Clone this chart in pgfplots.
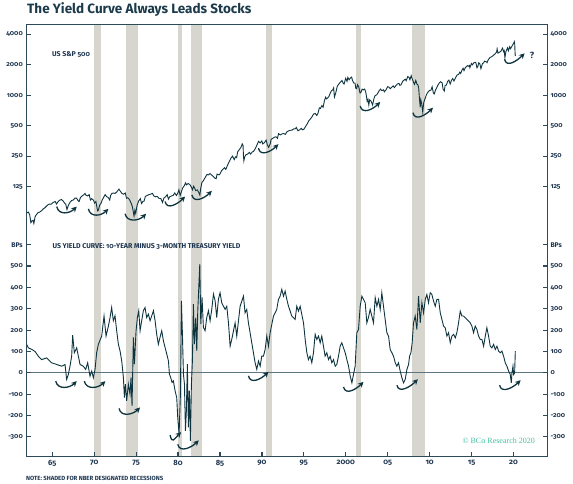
\documentclass[border=0pt]{standalone}
\usepackage{fontspec}
\setmainfont{Fira Sans}[Numbers=OldStyle]
\newfontfamily\bcafont{Liberation Serif}
\usepackage{pgfplots}
\pgfplotsset{compat=1.18}
\usetikzlibrary{arrows.meta}
\definecolor{ink}{HTML}{0E3440}
\definecolor{axcol}{HTML}{2C4A57}
\definecolor{lbl}{HTML}{1E3550}
\definecolor{recess}{HTML}{D6D6CE}
\definecolor{zeroc}{HTML}{5C7580}
\definecolor{bca}{HTML}{43BFA0}
\definecolor{titlec}{HTML}{1B3A4B}
\newcommand{\swoosh}[4]{\draw[ink, line width=1.3pt, -{Stealth[length=5.5pt,width=5.5pt]}] (axis cs:#1,#2) .. controls +(2pt,-9pt) and +(-7pt,-7pt) .. +(#3pt,#4pt);}
\newcommand{\recessions}[1]{%
 \foreach \a/\b in {1969.92/1970.83, 1973.83/1975.17, 1980.0/1980.5, 1981.5/1982.83, 1990.5/1991.17, 2001.17/2001.83, 2007.92/2009.42}{%
  \edef\tmp{\noexpand\fill[recess] ({axis cs:\a,#1}|-{rel axis cs:0,0}) rectangle ({axis cs:\b,#1}|-{rel axis cs:0,1});}\tmp}}
\pgfplotsset{
 panel/.style={scale only axis, width=520.7pt, xmin=1961.9, xmax=2024.0,
  tick align=inside, major tick length=4.5pt,
  every tick/.style={axcol, line width=1.2pt},
  axis line style={axcol, line width=0.9pt},
  yticklabel style={font=\fontsize{6.8}{7}\selectfont\bfseries, text=lbl},
  xticklabel style={font=\fontsize{7.6}{8}\selectfont\bfseries, text=lbl},
  anchor=south west},
 toppanel/.style={panel, at={(26.3pt,247pt)}, height=212pt,
  ymin=40.6, ymax=5055, ytick={125,250,500,1000,2000,4000},
  yticklabels={125,250,500,1000,2000,4000}, xtick=\empty},
 botpanel/.style={panel, at={(26.3pt,26.3pt)}, height=220.7pt, ymin=-393, ymax=641,
  ytick={-300,-200,-100,0,100,200,300,400,500,600},
  yticklabels={-300,-200,-100,0,100,200,300,400,500,BPs}}
}
\begin{document}
\begin{tikzpicture}
\path[use as bounding box] (0,0) rectangle (573pt,483pt);
% ---------- top panel ----------
\begin{axis}[ymode=log, log basis y=2, toppanel, axis on top, axis x line*=top, axis y line*=left]
\recessions{100}
\addplot[ink, line width=0.9pt, no markers] coordinates {
(1961.9,71) (1962.0,69) (1962.15,70) (1962.3,66) (1962.45,55) (1962.55,57) (1962.7,58) (1962.8,54) (1962.95,63)
(1963.1,66) (1963.3,69) (1963.5,70) (1963.7,72) (1963.9,75) (1964.1,77) (1964.3,80) (1964.5,83) (1964.7,84) (1964.9,84)
(1965.1,87) (1965.35,89) (1965.5,84) (1965.7,89) (1965.9,92) (1966.1,93) (1966.3,90) (1966.45,86) (1966.6,84) (1966.75,74) (1966.9,81)
(1967.1,87) (1967.3,91) (1967.5,92) (1967.7,96) (1967.9,96) (1968.1,90) (1968.2,89) (1968.35,97) (1968.5,100) (1968.7,103) (1968.9,107)
(1969.0,103) (1969.2,101) (1969.4,104) (1969.55,92) (1969.7,95) (1969.9,92) (1970.05,86) (1970.2,89) (1970.4,72) (1970.5,73) (1970.65,82) (1970.8,85) (1970.95,92)
(1971.1,97) (1971.3,104) (1971.5,99) (1971.65,98) (1971.85,92) (1971.95,102) (1972.1,107) (1972.3,108) (1972.5,107) (1972.7,111) (1972.95,118)
(1973.1,113) (1973.3,107) (1973.5,105) (1973.7,108) (1973.85,96) (1974.0,97) (1974.2,93) (1974.4,86) (1974.55,79) (1974.75,64) (1974.85,73) (1974.95,68)
(1975.1,81) (1975.3,90) (1975.5,95) (1975.65,85) (1975.8,89) (1975.95,90) (1976.1,100) (1976.3,102) (1976.5,104) (1976.7,105) (1976.95,107)
(1977.1,101) (1977.3,99) (1977.5,100) (1977.7,96) (1977.95,95) (1978.15,87) (1978.3,96) (1978.5,99) (1978.7,104) (1978.85,94)
(1979.0,99) (1979.2,101) (1979.4,102) (1979.6,108) (1979.8,102) (1979.95,107) (1980.1,116) (1980.25,102) (1980.4,111) (1980.55,121) (1980.75,128) (1980.9,136)
(1981.0,130) (1981.2,134) (1981.4,131) (1981.6,123) (1981.72,116) (1981.85,126) (1981.95,122) (1982.1,114) (1982.3,116) (1982.45,110) (1982.6,103) (1982.7,120) (1982.85,138) (1982.95,140)
(1983.2,152) (1983.45,165) (1983.6,163) (1983.8,168) (1983.95,164) (1984.1,160) (1984.4,151) (1984.55,150) (1984.65,166) (1984.9,163)
(1985.0,167) (1985.2,180) (1985.4,187) (1985.55,192) (1985.7,185) (1985.85,199) (1985.99,211) (1986.15,225) (1986.3,238) (1986.5,250) (1986.7,231) (1986.85,246) (1986.99,242)
(1987.1,275) (1987.3,290) (1987.5,305) (1987.65,330) (1987.75,318) (1987.8,250) (1987.85,225) (1987.95,247) (1988.1,258) (1988.3,262) (1988.5,272) (1988.65,262) (1988.85,275) (1988.99,278)
(1989.2,295) (1989.4,321) (1989.6,350) (1989.8,338) (1989.99,353) (1990.1,330) (1990.3,340) (1990.5,360) (1990.65,322) (1990.8,305) (1990.99,330)
(1991.1,367) (1991.3,375) (1991.5,385) (1991.7,388) (1991.85,375) (1991.99,417) (1992.2,405) (1992.4,415) (1992.6,418) (1992.8,410) (1992.99,436)
(1993.2,445) (1993.4,450) (1993.6,452) (1993.8,465) (1993.99,466) (1994.1,480) (1994.3,445) (1994.5,455) (1994.7,470) (1994.85,455) (1994.99,459)
(1995.2,490) (1995.4,520) (1995.6,560) (1995.8,585) (1995.99,615) (1996.15,650) (1996.35,660) (1996.55,630) (1996.7,670) (1996.85,750) (1996.99,740)
(1997.15,790) (1997.3,760) (1997.45,880) (1997.6,955) (1997.7,920) (1997.85,940) (1997.99,970) (1998.15,1050) (1998.3,1110) (1998.45,1130) (1998.55,1180) (1998.65,960) (1998.8,1050) (1998.99,1229)
(1999.15,1280) (1999.3,1330) (1999.45,1370) (1999.55,1400) (1999.7,1310) (1999.8,1290) (1999.99,1469) (2000.15,1370) (2000.25,1500) (2000.4,1420) (2000.55,1480) (2000.7,1510) (2000.8,1400) (2000.95,1320)
(2001.1,1320) (2001.2,1170) (2001.3,1160) (2001.4,1270) (2001.55,1210) (2001.7,1050) (2001.8,1060) (2001.95,1148) (2002.1,1130) (2002.25,1150) (2002.4,1060) (2002.55,870) (2002.65,910) (2002.75,800) (2002.85,900) (2002.99,880)
(2003.1,840) (2003.2,800) (2003.35,920) (2003.5,990) (2003.7,1010) (2003.85,1060) (2003.99,1111) (2004.15,1150) (2004.3,1110) (2004.5,1130) (2004.6,1080) (2004.8,1130) (2004.99,1212)
(2005.15,1200) (2005.3,1160) (2005.5,1200) (2005.65,1235) (2005.8,1190) (2005.99,1248) (2006.15,1290) (2006.35,1310) (2006.45,1250) (2006.6,1270) (2006.8,1380) (2006.99,1418)
(2007.1,1440) (2007.2,1390) (2007.4,1530) (2007.55,1500) (2007.65,1420) (2007.8,1560) (2007.9,1470) (2008.0,1400) (2008.1,1330) (2008.2,1280) (2008.35,1400) (2008.5,1280) (2008.6,1270) (2008.7,1170) (2008.8,900) (2008.88,760) (2008.95,900)
(2009.05,830) (2009.18,680) (2009.3,850) (2009.45,920) (2009.6,1000) (2009.75,1060) (2009.99,1115) (2010.15,1120) (2010.3,1210) (2010.45,1050) (2010.55,1030) (2010.7,1120) (2010.85,1190) (2010.99,1257)
(2011.15,1320) (2011.3,1360) (2011.5,1320) (2011.6,1150) (2011.75,1100) (2011.85,1250) (2011.99,1257) (2012.15,1370) (2012.3,1410) (2012.45,1290) (2012.6,1400) (2012.75,1460) (2012.9,1380) (2012.99,1426)
(2013.15,1520) (2013.3,1590) (2013.45,1600) (2013.6,1690) (2013.7,1640) (2013.85,1760) (2013.99,1848) (2014.1,1750) (2014.25,1870) (2014.5,1960) (2014.6,1930) (2014.75,1970) (2014.8,1870) (2014.99,2058)
(2015.1,1995) (2015.3,2100) (2015.5,2110) (2015.65,1870) (2015.75,1920) (2015.85,2090) (2015.99,2043) (2016.1,1860) (2016.12,1830) (2016.3,2050) (2016.45,2090) (2016.55,2170) (2016.8,2130) (2016.85,2100) (2016.99,2238)
(2017.2,2360) (2017.4,2400) (2017.6,2470) (2017.8,2560) (2017.99,2673) (2018.05,2870) (2018.15,2600) (2018.3,2650) (2018.5,2720) (2018.7,2920) (2018.82,2700) (2018.9,2760) (2018.98,2350)
(2019.1,2700) (2019.3,2940) (2019.4,2750) (2019.55,3010) (2019.65,2880) (2019.75,2980) (2019.9,3140) (2020.0,3230) (2020.1,3386) (2020.15,3200) (2020.2,2500) (2020.24,2440)
};
\swoosh{1965.53}{79.3}{20}{0}
\swoosh{1969.30}{75.3}{20}{0}
\swoosh{1973.68}{67.3}{21}{0}
\swoosh{1978.45}{88.9}{20}{5}
\swoosh{1981.64}{103.5}{20}{4}
\swoosh{1989.58}{299.5}{20}{4}
\swoosh{2001.72}{782}{20}{4}
\swoosh{2008.01}{671}{20}{5}
\swoosh{2018.94}{2263}{20}{6}
\node[font=\fontsize{9}{10}\selectfont\bfseries, text=lbl] at (axis cs:2022.2,2500) {?};
\end{axis}
\begin{axis}[ymode=log, log basis y=2, toppanel, axis x line=none, axis y line*=right]
\addplot[draw=none] coordinates {(1970,100)};
\end{axis}
% ---------- bottom panel ----------
\begin{axis}[botpanel, axis on top, axis x line*=bottom, axis y line*=left,
  xtick={1965,1970,...,2020}, xticklabels={65,70,75,80,85,90,95,2000,05,10,15,20}]
\recessions{0}
\draw[zeroc, line width=0.8pt] ({rel axis cs:0,0}|-{axis cs:1970,0}) -- ({rel axis cs:1,0}|-{axis cs:1970,0});
\addplot[ink, line width=0.9pt, no markers] coordinates {
(1961.94,133) (1962.14,117) (1962.54,110) (1962.94,100) (1963.33,78) (1963.73,62) (1964.33,70) (1964.92,47) (1965.52,39)
(1966.12,31) (1966.52,39) (1966.71,-31) (1966.91,-8) (1967.11,31) (1967.31,78) (1967.43,176) (1967.63,94) (1967.91,117)
(1968.11,78) (1968.31,39) (1968.70,31) (1968.98,16) (1969.22,47) (1969.50,-16) (1969.70,8) (1969.90,-23)
(1970.10,16) (1970.29,94) (1970.49,133) (1970.89,172) (1971.17,266) (1971.41,172) (1971.69,219) (1971.89,259)
(1972.08,306) (1972.28,244) (1972.48,267) (1972.68,197) (1972.88,134) (1973.08,103) (1973.28,56) (1973.48,-22) (1973.60,-116) (1973.72,-53)
(1973.87,-131) (1974.07,-53) (1974.27,-100) (1974.39,-22) (1974.51,-155) (1974.67,166) (1974.79,41) (1974.99,197) (1975.15,259) (1975.31,291)
(1975.47,197) (1975.66,244) (1975.86,291) (1976.06,306) (1976.26,259) (1976.46,275) (1976.66,244) (1976.86,267) (1977.06,291) (1977.26,244)
(1977.45,181) (1977.65,134) (1977.85,166) (1978.05,197) (1978.25,150) (1978.45,119) (1978.65,88) (1978.85,56) (1978.97,-6) (1979.12,-22)
(1979.28,-45) (1979.44,-38) (1979.64,-84) (1979.84,-116) (1979.96,-209) (1980.12,-288) (1980.28,-100) (1980.40,337) (1980.52,181) (1980.64,-6)
(1980.76,-53) (1980.88,-272) (1980.99,-178) (1981.11,41) (1981.23,-256) (1981.35,-84) (1981.47,-319) (1981.59,-53) (1981.71,56) (1981.83,322)
(1981.95,134) (1982.11,259) (1982.23,103) (1982.35,291) (1982.47,400) (1982.59,509) (1982.71,228) (1982.86,353) (1983.02,213) (1983.22,197)
(1983.42,259) (1983.62,291) (1983.82,244) (1984.02,298) (1984.22,369) (1984.42,337) (1984.61,259) (1984.81,344) (1985.01,375) (1985.21,328) (1985.61,297) (1985.81,312)
(1986.01,234) (1986.21,125) (1986.40,156) (1986.80,234) (1987.00,172) (1987.40,312) (1987.80,359) (1987.99,281)
(1988.19,297) (1988.39,234) (1988.59,188) (1988.79,141) (1988.99,94) (1989.19,47) (1989.39,16) (1989.59,55) (1989.79,31) (1989.98,78)
(1990.18,78) (1990.38,109) (1990.58,172) (1990.78,125) (1990.98,188) (1991.38,266) (1991.58,281) (1991.77,297) (1991.97,344)
(1992.17,359) (1992.37,391) (1992.57,359) (1992.77,383) (1992.97,344) (1993.17,312) (1993.37,289) (1993.56,266) (1993.96,250)
(1994.16,312) (1994.36,289) (1994.56,312) (1994.76,273) (1994.96,234) (1995.16,156) (1995.36,94) (1995.55,62) (1995.75,78) (1995.95,47)
(1996.15,94) (1996.35,180) (1996.55,156) (1996.75,172) (1996.95,141) (1997.14,172) (1997.34,125) (1997.54,78) (1997.74,94) (1997.94,62)
(1998.14,78) (1998.34,47) (1998.54,62) (1998.74,31) (1998.93,39) (1999.13,78) (1999.33,125) (1999.53,141) (1999.73,117) (1999.93,94)
(2000.13,62) (2000.33,31) (2000.53,-16) (2000.73,-47) (2000.92,-8) (2001.12,31) (2001.32,188) (2001.52,203) (2001.72,312) (2001.92,359)
(2002.12,344) (2002.32,328) (2002.51,234) (2002.71,260) (2002.91,297) (2003.11,266) (2003.31,234) (2003.51,352) (2003.71,312) (2003.91,344)
(2004.11,297) (2004.30,375) (2004.50,312) (2004.70,250) (2004.90,188) (2005.10,172) (2005.30,109) (2005.50,94) (2005.70,78) (2005.90,47)
(2006.09,31) (2006.29,47) (2006.49,8) (2006.69,-23) (2006.89,-47) (2007.09,-31) (2007.29,16) (2007.49,39) (2007.61,78) (2007.77,94) (2007.92,141)
(2008.08,234) (2008.28,266) (2008.48,203) (2008.68,359) (2008.88,234) (2009.08,328) (2009.28,281) (2009.48,344) (2009.67,367) (2009.87,328)
(2010.07,375) (2010.27,367) (2010.47,336) (2010.67,312) (2010.87,344) (2011.07,344) (2011.27,281) (2011.47,250) (2011.66,219) (2011.86,211)
(2012.06,172) (2012.26,188) (2012.46,141) (2012.66,172) (2012.86,180) (2013.06,164) (2013.25,188) (2013.45,234) (2013.65,289) (2013.85,266)
(2014.05,266) (2014.45,250) (2014.65,242) (2014.85,234) (2015.04,219) (2015.24,188) (2015.44,219) (2015.64,203) (2015.84,172)
(2016.04,156) (2016.24,156) (2016.44,125) (2016.64,172) (2016.83,211) (2017.03,172) (2017.23,125) (2017.43,117) (2017.63,133) (2017.83,109)
(2018.03,125) (2018.23,102) (2018.43,94) (2018.62,102) (2018.82,78) (2019.02,47) (2019.22,31) (2019.42,8) (2019.62,-8) (2019.74,-47)
(2019.82,0) (2019.94,31) (2020.02,-8) (2020.14,0) (2020.22,102)
};
\swoosh{1965.41}{-39}{21}{0}
\swoosh{1968.82}{-39}{21}{0}
\swoosh{1972.96}{-167}{21}{1}
\swoosh{1979.05}{-292}{11}{3}
\swoosh{1979.96}{-335}{21}{4}
\swoosh{1988.39}{-14}{20}{4}
\swoosh{1999.73}{-66}{20}{5}
\swoosh{2006.10}{-58}{21}{6}
\swoosh{2018.34}{-58}{21}{5}
\end{axis}
\begin{axis}[botpanel, axis x line=none, axis y line*=right]
\addplot[draw=none] coordinates {(1970,0)};
\end{axis}
% ---------- texts ----------
\node[anchor=base west, inner sep=0, font=\fontsize{13.5}{16}\selectfont\bfseries, text=titlec] at (27pt,469pt) {The Yield Curve Always Leads Stocks};
\node[anchor=base west, inner sep=0, font=\fontsize{7}{8}\selectfont\bfseries, text=lbl] at (52pt,426pt) {US S\&P 500};
\node[anchor=base west, inner sep=0, font=\fontsize{7}{8}\selectfont\bfseries, text=lbl] at (52.3pt,235pt) {US YIELD CURVE: 10-YEAR MINUS 3-MONTH TREASURY YIELD};
\node[anchor=base west, inner sep=0, font=\fontsize{6}{7}\selectfont\bfseries, text=lbl] at (26pt,2.5pt) {NOTE: SHADED FOR NBER DESIGNATED RECESSIONS};
\node[anchor=base east, inner sep=0, font=\bcafont\fontsize{8}{9}\selectfont, text=bca] at (535pt,40pt) {© BCα Research 2020};
\end{tikzpicture}
\end{document}
